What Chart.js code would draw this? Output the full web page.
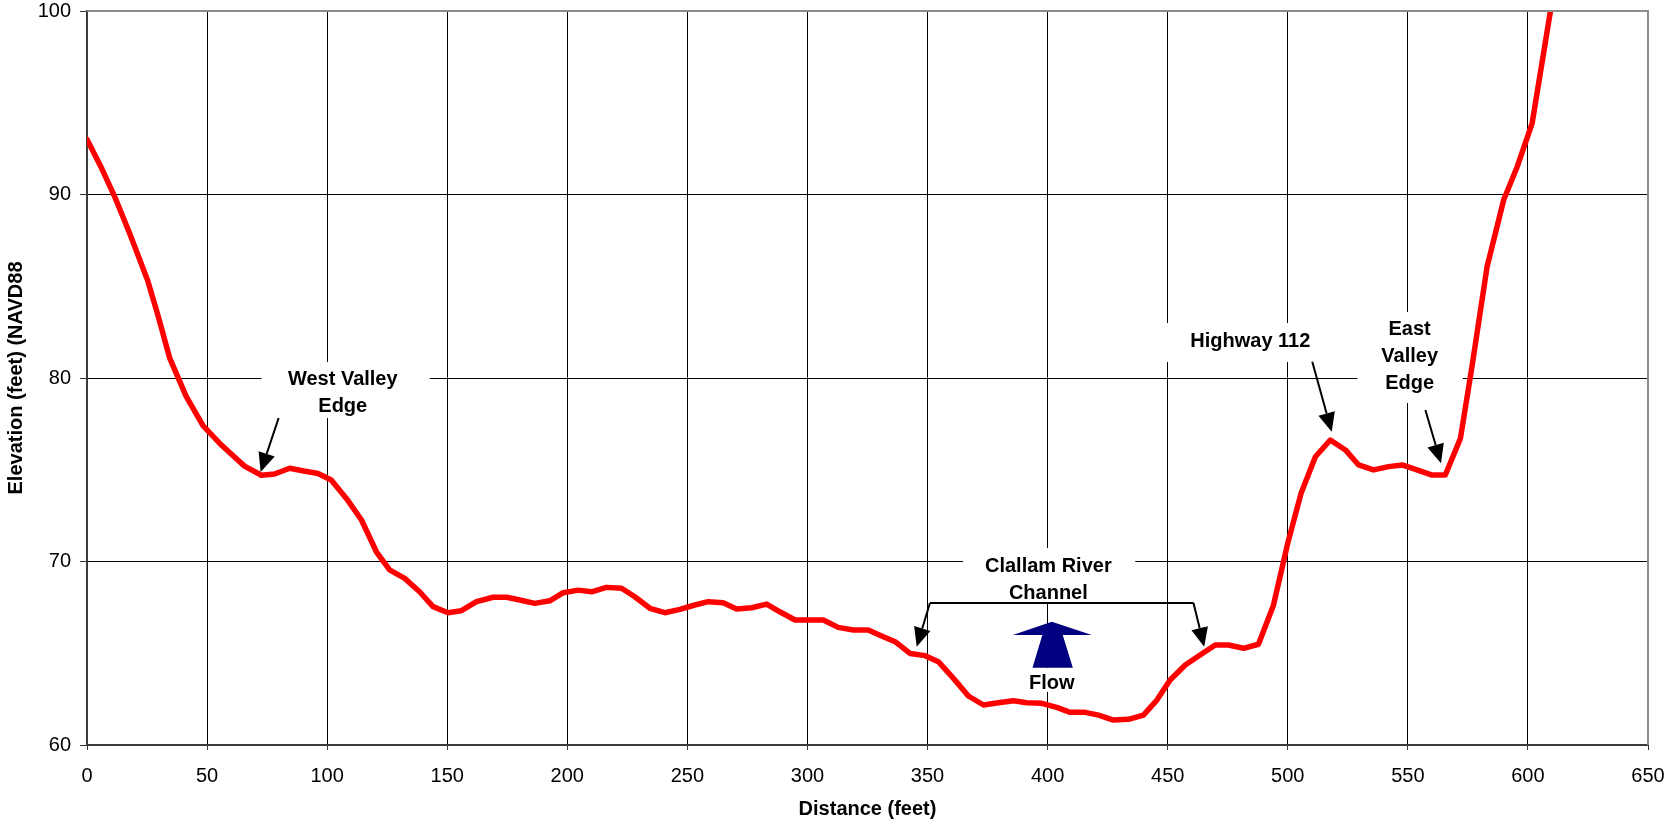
<!DOCTYPE html>
<html><head><meta charset="utf-8">
<script src="https://cdn.jsdelivr.net/npm/chart.js@4"></script>
<style>html,body{margin:0;padding:0;background:#fff}#wrap{width:1669px;height:820px}</style>
</head><body><div id="wrap"><canvas id="c" width="1669" height="820"></canvas></div>
<script>
// ---- data ----
const distance = [0, 6.2, 11.8, 17.7, 25.3, 29.8, 34.4, 41.3, 48.3, 55.2, 60.5, 65.6, 72.6, 78.1, 84.4, 90.3, 96.2, 101.7, 108, 114.3, 120.5, 126, 132.3, 138.5, 144.1, 150.3, 155.9, 162.2, 169.1, 174.7, 180.2, 186.5, 192.7, 198.3, 204.5, 210.1, 216.3, 222.6, 228.1, 234.4, 240.6, 246.9, 253.1, 258.7, 264.9, 270.5, 276.7, 283, 288.5, 294.8, 300.3, 306.6, 312.8, 319.1, 325.3, 331.6, 336.5, 342.7, 349, 354.5, 360.8, 367, 373.3, 379.5, 385.8, 391.3, 397.6, 403.8, 409.4, 415.6, 421.2, 427.4, 433.7, 439.9, 445.5, 451, 457.3, 463.5, 469.8, 475.3, 481.6, 487.8, 494, 500, 505.5, 511.5, 517.7, 524, 529.5, 535.7, 542, 547.6, 553.8, 560.1, 565.6, 571.9, 576.7, 583, 589.9, 595.5, 601.75, 614];
const elevation = [93.0, 91.4, 89.8, 87.9, 85.3, 83.3, 81.1, 79.0, 77.4, 76.45, 75.8, 75.2, 74.7, 74.77, 75.08, 74.93, 74.8, 74.44, 73.44, 72.26, 70.53, 69.54, 69.08, 68.35, 67.54, 67.21, 67.32, 67.81, 68.05, 68.05, 67.9, 67.72, 67.86, 68.3, 68.44, 68.35, 68.59, 68.54, 68.08, 67.45, 67.21, 67.39, 67.63, 67.81, 67.75, 67.41, 67.48, 67.68, 67.26, 66.81, 66.81, 66.81, 66.41, 66.27, 66.27, 65.9, 65.63, 64.99, 64.87, 64.54, 63.63, 62.67, 62.18, 62.3, 62.41, 62.3, 62.27, 62.05, 61.78, 61.78, 61.63, 61.36, 61.4, 61.63, 62.45, 63.54, 64.36, 64.9, 65.45, 65.45, 65.27, 65.49, 67.6, 71.0, 73.7, 75.71, 76.62, 76.08, 75.26, 74.99, 75.17, 75.26, 74.99, 74.71, 74.71, 76.71, 80.62, 86.07, 89.7, 91.5, 93.88, 103.7];
const xTickValues = [0, 50, 100, 150, 200, 250, 300, 350, 400, 450, 500, 550, 600, 650];
const yTickValues = [60, 70, 80, 90, 100];
const xTitle = 'Distance (feet)';
const yTitle = 'Elevation (feet) (NAVD88';

// annotations (data units: distance, elevation)
const noteLines   = [['West Valley', 'Edge'], ['Highway 112'], ['East', 'Valley', 'Edge'], ['Clallam River', 'Channel'], ['Flow']];
const noteCenterX = [106.5, 484.4, 550.75, 400.3, 401.75];
const noteFirstY  = [79.93, 82.0, 82.65, 69.75, 63.35];
const noteBoxes   = [[72.7, 80.87, 142.7, 77.82], [449, 83.0, 520.8, 80.87], [529, 83.6, 572.9, 78.64], [364.8, 70.74, 436.5, 67.74], [390.6, 64.21, 412.7, 62.89]];
const arrowLines  = [[79.8, 77.82, 72.3, 74.88], [510.2, 80.89, 518.3, 77.07], [557.3, 78.26, 563.8, 75.35]];
const bracketPts  = [[345.5, 65.36], [351, 67.74], [460.75, 67.74], [465.2, 65.36]];
const flowArrow   = [[401.75, 66.72], [418.4, 65.99], [406.3, 65.99], [410.5, 64.21], [393.7, 64.21], [397.8, 65.99], [385.5, 65.99]];

const FONT = '"Liberation Sans", Arial, sans-serif';

function drawArrow(ctx, x1, y1, x2, y2) {
  const ang = Math.atan2(y2 - y1, x2 - x1);
  const L = 19, W = 8.5;
  const bx = x2 - L * Math.cos(ang), by = y2 - L * Math.sin(ang);
  ctx.beginPath(); ctx.moveTo(x1, y1); ctx.lineTo(bx, by); ctx.stroke();
  ctx.beginPath();
  ctx.moveTo(x2, y2);
  ctx.lineTo(bx + W * Math.sin(ang), by - W * Math.cos(ang));
  ctx.lineTo(bx - W * Math.sin(ang), by + W * Math.cos(ang));
  ctx.closePath(); ctx.fill();
}

const annoPlugin = {
  id: 'anno',
  beforeDatasetsDraw(chart) {
    const ctx = chart.ctx, xs = chart.scales.x, ys = chart.scales.y;
    ctx.save();
    ctx.fillStyle = '#fff';
    noteBoxes.forEach(b => {
      const x1 = xs.getPixelForValue(b[0]), y1 = ys.getPixelForValue(b[1]);
      const x2 = xs.getPixelForValue(b[2]), y2 = ys.getPixelForValue(b[3]);
      ctx.fillRect(x1, y1, x2 - x1, y2 - y1);
    });
    ctx.restore();
  },
  afterDatasetsDraw(chart) {
    const ctx = chart.ctx, xs = chart.scales.x, ys = chart.scales.y;
    const ca = chart.chartArea;
    const px = v => xs.getPixelForValue(v), py = v => ys.getPixelForValue(v);
    ctx.save();
    // top / right frame
    ctx.strokeStyle = '#8c8c8c'; ctx.lineWidth = 2;
    ctx.beginPath(); ctx.moveTo(ca.left, ca.top); ctx.lineTo(ca.right, ca.top); ctx.lineTo(ca.right, ca.bottom); ctx.stroke();
    // texts
    ctx.fillStyle = '#000';
    ctx.font = 'bold 20px ' + FONT;
    ctx.textAlign = 'center'; ctx.textBaseline = 'middle';
    noteLines.forEach((lines, i) => {
      const y0 = py(noteFirstY[i]);
      lines.forEach((t, j) => ctx.fillText(t, px(noteCenterX[i]), y0 + j * 27));
    });
    // arrows
    ctx.strokeStyle = '#000'; ctx.fillStyle = '#000'; ctx.lineWidth = 2;
    arrowLines.forEach(a => drawArrow(ctx, px(a[0]), py(a[1]), px(a[2]), py(a[3])));
    // bracket
    const bp = bracketPts.map(p => [px(p[0]), py(p[1])]);
    ctx.beginPath(); ctx.moveTo(bp[1][0], bp[1][1]); ctx.lineTo(bp[2][0], bp[2][1]); ctx.stroke();
    drawArrow(ctx, bp[1][0], bp[1][1], bp[0][0], bp[0][1]);
    drawArrow(ctx, bp[2][0], bp[2][1], bp[3][0], bp[3][1]);
    // flow arrow
    ctx.fillStyle = '#000080';
    ctx.beginPath();
    flowArrow.forEach((p, i) => { const X = px(p[0]), Y = py(p[1]); i ? ctx.lineTo(X, Y) : ctx.moveTo(X, Y); });
    ctx.closePath(); ctx.fill();
    ctx.restore();
  }
};

new Chart(document.getElementById('c'), {
  type: 'line',
  data: {
    datasets: [{
      data: distance.map((d, i) => ({ x: d, y: elevation[i] })),
      borderColor: '#ff0000', borderWidth: 5.5, pointRadius: 0, tension: 0,
      borderJoinStyle: 'round', borderCapStyle: 'round', clip: 0, fill: false
    }]
  },
  options: {
    responsive: false, animation: false, devicePixelRatio: 1,
    layout: { padding: { top: 11, right: 21, left: 0, bottom: 0 } },
    plugins: { legend: { display: false }, tooltip: { enabled: false } },
    scales: {
      x: {
        type: 'linear', min: 0, max: 650,
        afterBuildTicks: s => { s.ticks = xTickValues.map(v => ({ value: v })); },
        ticks: { color: '#000', font: { family: FONT, size: 20 }, padding: 14, maxRotation: 0, autoSkip: false },
        grid: { color: '#000', lineWidth: 1, tickLength: 5, tickColor: '#333' },
        border: { color: '#3a3a3a', width: 2 },
        title: { display: true, text: xTitle, color: '#000', font: { family: FONT, size: 20, weight: 'bold', lineHeight: 1 }, padding: { top: 0, bottom: 1 } },
        afterFit: s => { s.height = 75; s.paddingLeft = 0; s.paddingRight = 0; }
      },
      y: {
        type: 'linear', min: 60, max: 100,
        afterBuildTicks: s => { s.ticks = yTickValues.map(v => ({ value: v })); },
        ticks: { color: '#000', font: { family: FONT, size: 20 }, padding: 9 },
        grid: { color: '#000', lineWidth: 1, tickLength: 7, tickColor: '#333' },
        border: { color: '#3a3a3a', width: 2 },
        title: { display: true, text: yTitle, color: '#000', font: { family: FONT, size: 20, weight: 'bold', lineHeight: 1 }, padding: { top: 6, bottom: 0 } },
        afterFit: s => { s.width = 87; s.paddingTop = 0; s.paddingBottom = 0; }
      }
    }
  },
  plugins: [annoPlugin]
});
</script></body></html>
